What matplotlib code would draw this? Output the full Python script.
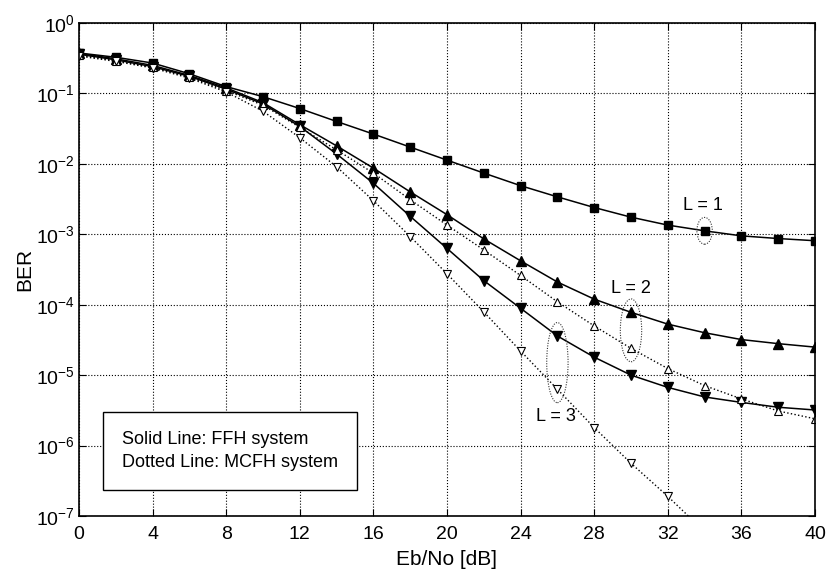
"""BER vs Eb/No for FFH (solid) and MCFH (dotted) systems, diversity L = 1, 2, 3."""
import numpy as np
import matplotlib
matplotlib.use("Agg")
import matplotlib.pyplot as plt
from matplotlib.patches import Ellipse

plt.rcParams["font.family"] = ["Liberation Sans", "DejaVu Sans"]
plt.rcParams["mathtext.fontset"] = "custom"
plt.rcParams["mathtext.rm"] = "Liberation Sans"

EBNO = np.arange(0, 42, 2)

# FFH system (solid lines)
ffh_l1 = [0.375, 0.326, 0.27, 0.19, 0.125, 0.09, 0.061, 0.040, 0.0265, 0.0173,
          0.0113, 0.0074, 0.0049, 0.0034, 0.0024, 0.00175, 0.00135, 0.00112,
          0.00095, 0.00087, 0.00081]
ffh_l2 = [0.37, 0.31, 0.25, 0.18, 0.12, 0.074, 0.036, 0.018, 0.0087, 0.004,
          0.0019, 8.6e-4, 4.2e-4, 2.1e-4, 1.2e-4, 7.8e-5, 5.3e-5, 4.0e-5,
          3.2e-5, 2.8e-5, 2.5e-5]
ffh_l3 = [0.36, 0.30, 0.24, 0.175, 0.115, 0.071, 0.034, 0.0138, 0.0053, 0.0018,
          6.3e-4, 2.2e-4, 8.9e-5, 3.6e-5, 1.8e-5, 1.0e-5, 6.7e-6, 4.9e-6,
          4.1e-6, 3.5e-6, 3.2e-6]

# MCFH system (dotted lines)
mcfh_l2 = [0.35, 0.29, 0.235, 0.17, 0.11, 0.068, 0.033, 0.0158, 0.0074, 0.0031,
           0.00135, 6.0e-4, 2.6e-4, 1.1e-4, 5.0e-5, 2.4e-5, 1.24e-5, 7.1e-6,
           4.6e-6, 3.1e-6, 2.4e-6]
mcfh_l3 = [0.34, 0.285, 0.23, 0.165, 0.105, 0.056, 0.0235, 0.0091, 0.003,
           9.3e-4, 2.75e-4, 7.9e-5, 2.2e-5, 6.3e-6, 1.8e-6, 5.6e-7, 1.9e-7,
           6.0e-8]

YTICKS = [1e-7, 1e-6, 1e-5, 1e-4, 1e-3, 1e-2, 1e-1, 1e0]
XTICKS = list(range(0, 44, 4))

# (label, text position, ellipse anchor index, curves enclosed)
ANNOT = [
    ("L = 1", (33.9, 2.6e-3), 17, [ffh_l1]),
    ("L = 2", (30.0, 1.7e-4), 15, [ffh_l2, mcfh_l2]),
    ("L = 3", (25.9, 2.6e-6), 13, [ffh_l3, mcfh_l3]),
]

fig = plt.figure(figsize=(8.26, 5.72), dpi=100)
ax = fig.add_axes([0.0956, 0.0979, 0.8911, 0.8619])

ax.plot(EBNO, ffh_l1, "k-", lw=1.1, marker="s", ms=6, mfc="k")
ax.plot(EBNO, ffh_l2, "k-", lw=1.1, marker="^", ms=6.5, mfc="k")
ax.plot(EBNO, ffh_l3, "k-", lw=1.1, marker="v", ms=6.5, mfc="k")
ax.plot(EBNO, mcfh_l2, "k:", lw=1.0, marker="^", ms=6, mfc="white", mew=0.8)
ax.plot(EBNO[:len(mcfh_l3)], mcfh_l3, "k:", lw=1.0, marker="v", ms=6,
        mfc="white", mew=0.8)

ax.set_yscale("log")
ax.set_xlim(0, 40)
ax.set_ylim(1e-7, 1e0)
ax.set_xticks(XTICKS)
ax.set_yticks(YTICKS)
ax.minorticks_off()
ax.tick_params(which="both", direction="in", top=True, right=True,
               labelsize=14, length=5, width=0.8)
ax.tick_params(axis="x", pad=7)
ax.tick_params(axis="y", pad=3)
ax.grid(True, color="k", ls=":", lw=0.8)
for s in ax.spines.values():
    s.set_linewidth(1.2)

ax.set_xlabel("Eb/No [dB]", fontsize=15, labelpad=5)
ax.set_ylabel("BER", fontsize=15, labelpad=1)

# dotted ellipses grouping the curves of the same diversity order
for label, txt, idx, curves in ANNOT:
    ys = [np.log10(c[idx]) for c in curves]
    xf = EBNO[idx] / 40.0
    yc = (np.mean(ys) + 7) / 7.0
    h = (max(ys) - min(ys) + 0.38) / 7.0
    w = 0.029 if len(curves) > 1 else 0.021
    ax.add_patch(Ellipse((xf, yc), w, h, transform=ax.transAxes, fill=False,
                         ec="#333333", ls=(0, (1, 1.3)), lw=0.8, zorder=5))
    ax.text(txt[0], txt[1], label, fontsize=13, ha="center", va="center")

# text box legend
ax.text(0.059, 0.132, "Solid Line: FFH system\nDotted Line: MCFH system",
        transform=ax.transAxes, fontsize=13, ha="left", va="center",
        linespacing=1.45,
        bbox=dict(boxstyle="square,pad=1.05", fc="white", ec="k", lw=1.0))

fig.savefig("out.png", dpi=100)
